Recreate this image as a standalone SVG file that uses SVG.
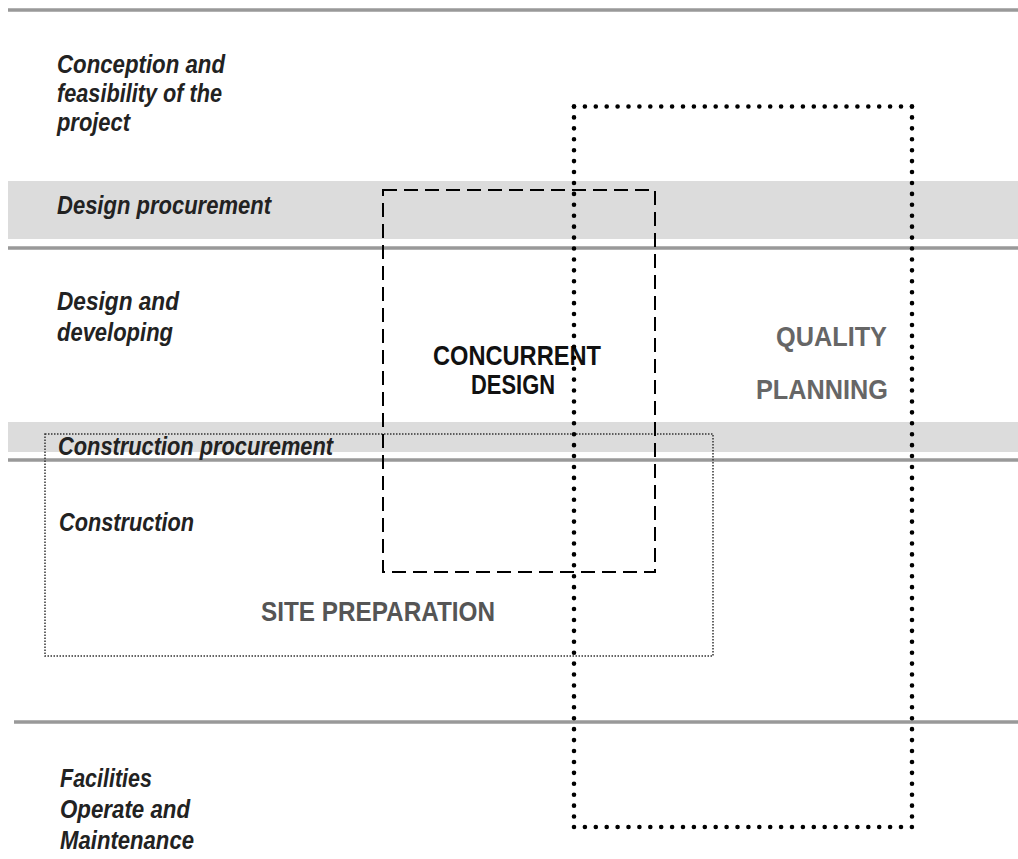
<svg xmlns="http://www.w3.org/2000/svg" width="1018" height="859" viewBox="0 0 1018 859">
  <style>
    .rule { stroke: #999999; stroke-width: 3.5; fill: none; }
    .band { fill: #dcdcdc; }
    .phase { font-family: "Liberation Sans", Arial, sans-serif; font-style: italic; font-weight: bold; font-size: 25px; fill: #222222; }
    .zone { font-family: "Liberation Sans", Arial, sans-serif; font-weight: bold; font-size: 28px; }
    .dots { stroke: #000; stroke-width: 4.6; stroke-linecap: round; fill: none; }
    .dash { stroke: #000; stroke-width: 2; stroke-dasharray: 14 7; fill: none; }
    .fine { stroke: #333; stroke-width: 1.5; stroke-dasharray: 1.5 1.5; fill: none; }
  </style>

  <rect width="1018" height="859" fill="#ffffff"/>

  <!-- phase bands and separators -->
  <g id="phases">
    <line class="rule" x1="8" y1="10" x2="1018" y2="10"/>
    <rect class="band" x="8" y="181" width="1010" height="58"/>
    <line class="rule" x1="8" y1="248" x2="1018" y2="248"/>
    <rect class="band" x="8" y="422" width="1010" height="30"/>
    <line class="rule" x1="8" y1="460" x2="1018" y2="460"/>
    <line class="rule" x1="14" y1="722" x2="1018" y2="722"/>
  </g>

  <!-- phase labels -->
  <g id="phase-conception">
    <text class="phase" x="57" y="73" textLength="168" lengthAdjust="spacingAndGlyphs">Conception and</text>
    <text class="phase" x="57" y="102" textLength="165" lengthAdjust="spacingAndGlyphs">feasibility of the</text>
    <text class="phase" x="57" y="131" textLength="73" lengthAdjust="spacingAndGlyphs">project</text>
  </g>
  <g id="phase-design-procurement">
    <text class="phase" x="57" y="214" textLength="214" lengthAdjust="spacingAndGlyphs">Design procurement</text>
  </g>
  <g id="phase-design">
    <text class="phase" x="57" y="310" textLength="122" lengthAdjust="spacingAndGlyphs">Design and</text>
    <text class="phase" x="57" y="341" textLength="116" lengthAdjust="spacingAndGlyphs">developing</text>
  </g>
  <g id="phase-construction-procurement">
    <text class="phase" x="58" y="455" textLength="275" lengthAdjust="spacingAndGlyphs">Construction procurement</text>
  </g>
  <g id="phase-construction">
    <text class="phase" x="59" y="531" textLength="135" lengthAdjust="spacingAndGlyphs">Construction</text>
  </g>
  <g id="phase-facilities">
    <text class="phase" x="60" y="787" textLength="92" lengthAdjust="spacingAndGlyphs">Facilities</text>
    <text class="phase" x="60" y="818" textLength="130" lengthAdjust="spacingAndGlyphs">Operate and</text>
    <text class="phase" x="60" y="849" textLength="134" lengthAdjust="spacingAndGlyphs">Maintenance</text>
  </g>

  <!-- overlapping activity zones -->
  <g id="site-preparation">
    <rect class="fine" x="45" y="434" width="668" height="222"/>
    <text class="zone" x="378" y="621" text-anchor="middle" fill="#555555" textLength="234" lengthAdjust="spacingAndGlyphs">SITE PREPARATION</text>
  </g>

  <g id="concurrent-design">
    <rect class="dash" x="383" y="190" width="272" height="382"/>
    <text class="zone" x="517" y="365" text-anchor="middle" fill="#111111" textLength="168" lengthAdjust="spacingAndGlyphs">CONCURRENT</text>
    <text class="zone" x="513" y="394" text-anchor="middle" fill="#111111" textLength="84" lengthAdjust="spacingAndGlyphs">DESIGN</text>
  </g>

  <g id="quality-planning">
    <path class="dots" stroke-dasharray="0 10.9" d="M574 106.5 H912 M574 827 H912"/>
    <path class="dots" stroke-dasharray="0 10.924" d="M574 106.5 V827 M912 106.5 V827"/>
    <text class="zone" x="887" y="346" text-anchor="end" fill="#666666" textLength="111" lengthAdjust="spacingAndGlyphs">QUALITY</text>
    <text class="zone" x="888" y="399" text-anchor="end" fill="#666666" textLength="132" lengthAdjust="spacingAndGlyphs">PLANNING</text>
  </g>
</svg>
